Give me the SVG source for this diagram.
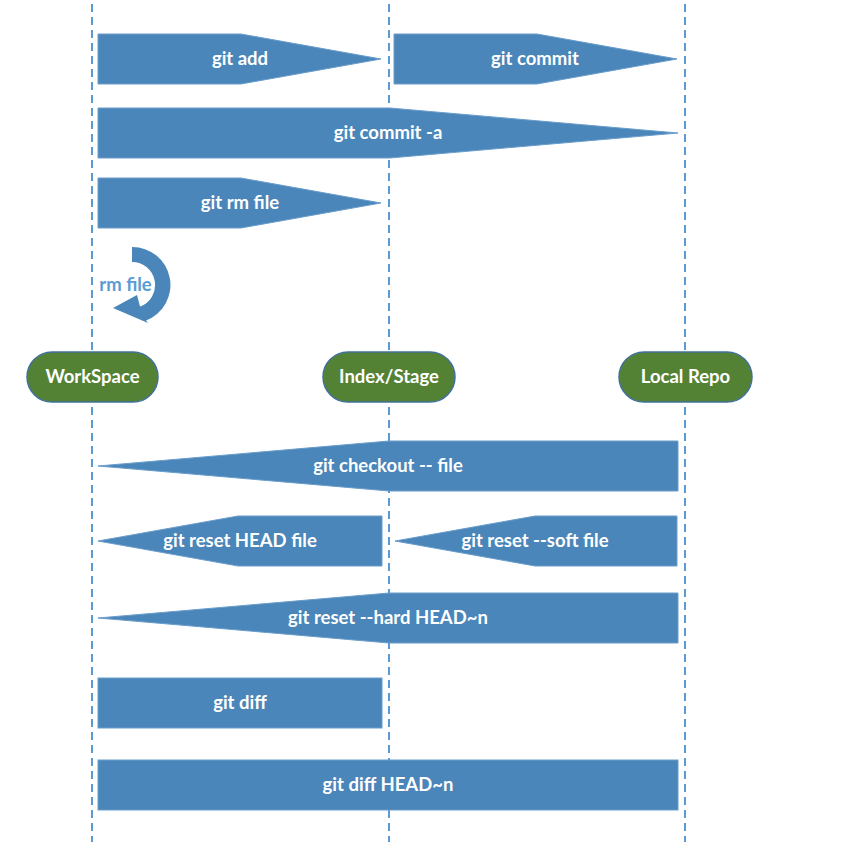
<svg xmlns="http://www.w3.org/2000/svg" width="856" height="854" viewBox="0 0 856 854">
  <defs>
    <style>
      .lane { stroke: #5b9bd5; stroke-width: 2; stroke-dasharray: 8 5; fill: none; }
      .cmd { fill: #4a86b9; stroke: #6a9dcb; stroke-width: 1; }
      .label { font-family: Lato, "Open Sans", "Liberation Sans", sans-serif; font-weight: bold; font-size: 18.5px; text-anchor: middle; dominant-baseline: central; }
      .cmd-text { fill: #ffffff; }
      .node { fill: #548235; stroke: #41719c; stroke-width: 1.5; }
      .node-text { fill: #ffffff; }
      .loop { fill: #4a86b9; }
      .loop-text { fill: #5b9bd5; }
    </style>
  </defs>
  <rect width="856" height="854" fill="#ffffff"/>

  <!-- swimlane guides -->
  <g id="lanes">
    <line class="lane" x1="92" y1="4" x2="92" y2="842"/>
    <line class="lane" x1="389" y1="4" x2="389" y2="842"/>
    <line class="lane" x1="685" y1="4" x2="685" y2="842"/>
  </g>

  <!-- command arrows -->
  <g id="connectors">
    <g id="git-add">
      <polygon class="cmd" points="98,34 241,34 381,59 241,84 98,84"/>
      <text class="label cmd-text" x="240" y="57.5">git add</text>
    </g>
    <g id="git-commit">
      <polygon class="cmd" points="394,34 537,34 677,59 537,84 394,84"/>
      <text class="label cmd-text" x="535" y="57.5">git commit</text>
    </g>
    <g id="git-commit-a">
      <polygon class="cmd" points="98,108 390,108 678,133 390,158 98,158"/>
      <text class="label cmd-text" x="388" y="131.5">git commit -a</text>
    </g>
    <g id="git-rm">
      <polygon class="cmd" points="98,178 241,178 381,203 241,228 98,228"/>
      <text class="label cmd-text" x="240" y="201.5">git rm file</text>
    </g>
    <g id="rm-file">
      <path class="loop" d="M132,247 A38,38 0 0,1 146,320.5 L148,323 L113,308 L137,295 L140,306.6 A23,23 0 0,0 132,262 Z"/>
      <text class="label loop-text" x="125.5" y="283.5">rm file</text>
    </g>
    <g id="git-checkout">
      <polygon class="cmd" points="98,466 389,441 678,441 678,491 389,491"/>
      <text class="label cmd-text" x="388" y="464.5">git checkout -- file</text>
    </g>
    <g id="git-reset-head">
      <polygon class="cmd" points="98,541 238,516 382,516 382,566 238,566"/>
      <text class="label cmd-text" x="240" y="539.5">git reset HEAD file</text>
    </g>
    <g id="git-reset-soft">
      <polygon class="cmd" points="395,541 535,516 677,516 677,566 535,566"/>
      <text class="label cmd-text" x="535" y="539.5">git reset --soft file</text>
    </g>
    <g id="git-reset-hard">
      <polygon class="cmd" points="98,618 389,593 678,593 678,643 389,643"/>
      <text class="label cmd-text" x="388" y="616.5">git reset --hard HEAD~n</text>
    </g>
    <g id="git-diff">
      <rect class="cmd" x="98" y="678" width="284" height="50"/>
      <text class="label cmd-text" x="240" y="701.5">git diff</text>
    </g>
    <g id="git-diff-head">
      <rect class="cmd" x="98" y="760" width="580" height="50"/>
      <text class="label cmd-text" x="388" y="783.5">git diff HEAD~n</text>
    </g>
  </g>

  <!-- storage areas -->
  <g id="workspace">
    <rect class="node" x="27" y="352" width="131" height="50" rx="25" ry="25"/>
    <text class="label node-text" x="92.5" y="375.5">WorkSpace</text>
  </g>
  <g id="index-stage">
    <rect class="node" x="323" y="352" width="132" height="50" rx="25" ry="25"/>
    <text class="label node-text" x="389" y="375.5">Index/Stage</text>
  </g>
  <g id="local-repo">
    <rect class="node" x="619" y="352" width="133" height="50" rx="25" ry="25"/>
    <text class="label node-text" x="685.5" y="375.5">Local Repo</text>
  </g>
</svg>
